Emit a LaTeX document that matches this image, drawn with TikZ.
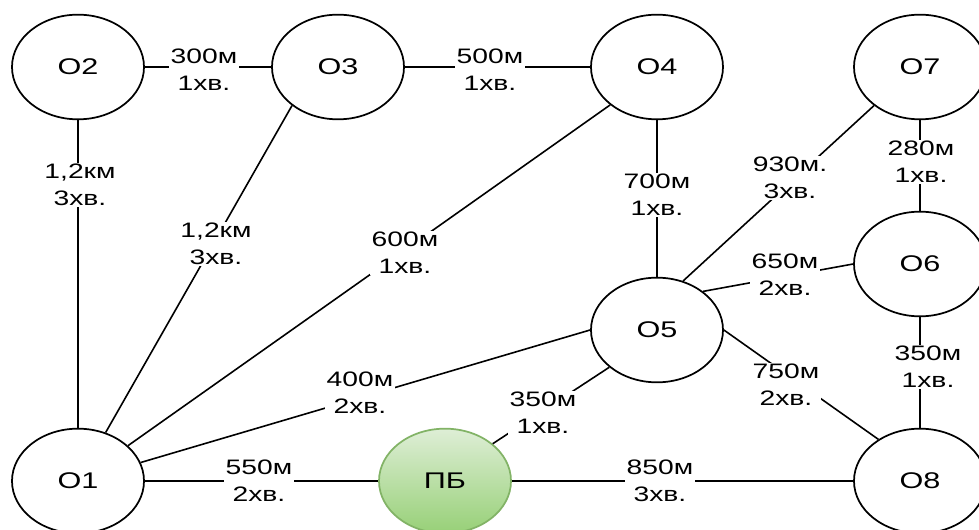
\documentclass[tikz,border=0pt]{standalone}
\usepackage{fontspec}
\setmainfont{Liberation Sans}[FakeStretch=1.35]
\usepackage{tikz}
\usetikzlibrary{shapes.geometric}
\definecolor{pbtop}{RGB}{222,238,214}
\definecolor{pbbot}{RGB}{151,208,119}
\definecolor{pbline}{RGB}{130,179,102}

\begin{document}
\begin{tikzpicture}[
  x=0.75pt, y=-0.75pt,
  obj/.style={draw, ellipse, line width=1.3pt, minimum width=99pt, minimum height=78.5pt, inner sep=0pt, font=\fontsize{17}{20}\selectfont},
  pbobj/.style={obj, draw=pbline, top color=pbtop, bottom color=pbbot},
  lbl/.style={fill=white, inner sep=1pt, align=center, font=\fontsize{15.7}{20}\selectfont},
  link/.style={line width=1.2pt}
]
\fill[white] (0,0) rectangle (979,530);
\clip (0,0) rectangle (979,530);

\node[obj] (o2) at (78,67) {О2};
\node[obj] (o3) at (338,67) {О3};
\node[obj] (o4) at (657,67) {О4};
\node[obj] (o7) at (920,67) {О7};
\node[obj] (o6) at (920,264) {О6};
\node[obj] (o5) at (657,330) {О5};
\node[obj] (o1) at (78,481) {О1};
\node[pbobj] (pb) at (445,481) {ПБ};
\node[obj] (o8) at (920,481) {О8};

\draw[link] (o2) -- (o3) -- (o4);
\draw[link] (o2) -- (o1);
\draw[link] (o3.220) -- (o1);
\draw[link] (o4.219) -- (o1);
\draw[link] (o5.west) -- (o1);
\draw[link] (o1) -- (pb) -- (o8);
\draw[link] (pb.38) -- (o5.218);
\draw[link] (o4) -- (o5);
\draw[link] (o5.62) -- (o7.220);
\draw[link] (o7) -- (o6) -- (o8);
\draw[link] (o5.40) -- (o6.west);
\draw[link] (o5.east) -- (o8.135);

\node[lbl] (d23) at (204,70) {300м\\1хв.};
\node[lbl] (d34) at (490,70) {500м\\1хв.};
\node[lbl] (d21) at (80,185) {1,2км\\3хв.};
\node[lbl] (d31) at (216,244) {1,2км\\3хв.};
\node[lbl] (d41) at (405,253) {600м\\1хв.};
\node[lbl] (d51) at (360,393) {400м\\2хв.};
\node[lbl] (d1p) at (259,481) {550м\\2хв.};
\node[lbl] (dp8) at (660,481) {850м\\3хв.};
\node[lbl] (dp5) at (543,413) {350м\\1хв.};
\node[lbl] (d45) at (657,195) {700м\\1хв.};
\node[lbl] (d57) at (790,178) {930м.\\3хв.};
\node[lbl] (d76) at (921,162) {280м\\1хв.};
\node[lbl] (d56) at (785,275) {650м\\2хв.};
\node[lbl] (d58) at (786,385) {750м\\2хв.};
\node[lbl] (d68) at (928,367) {350м\\1хв.};
\end{tikzpicture}
\end{document}
